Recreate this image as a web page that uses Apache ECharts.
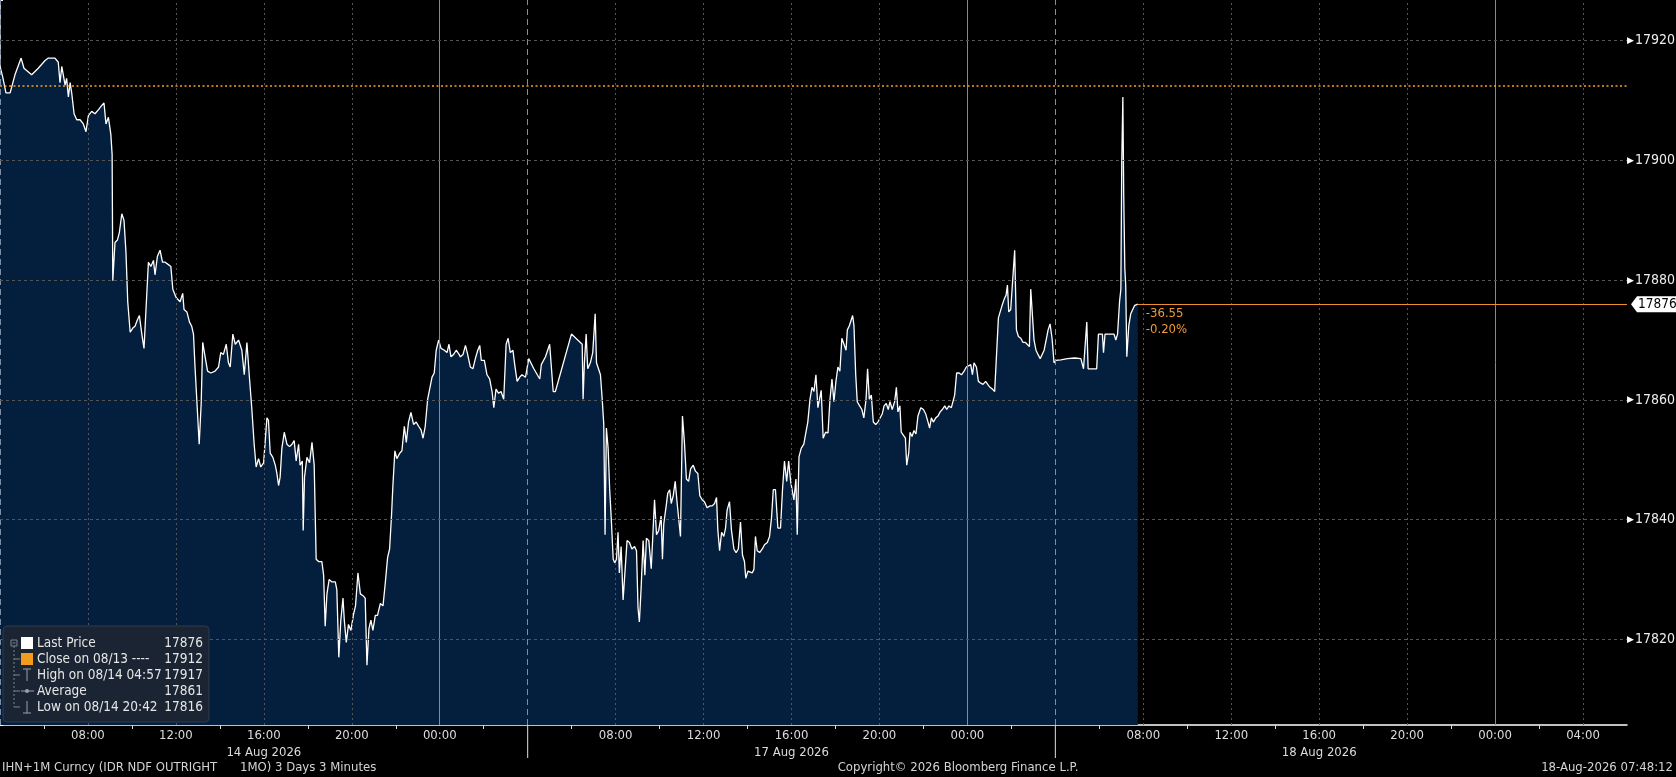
<!DOCTYPE html>
<html><head><meta charset="utf-8">
<script src="https://cdn.jsdelivr.net/npm/echarts@6/dist/echarts.min.js"></script>
<style>html,body{margin:0;padding:0;background:#000;}#c{width:1676px;height:777px;}</style>
</head><body><div id="c"></div>
<script>
// ---- DATA (hours since each session's 04:00 open, price) ----
const sessionOpenClock = 4;           // sessions run 04:00 -> 04:00
const sessionLength = 24;
const sessionDates = ['14 Aug 2026', '17 Aug 2026', '18 Aug 2026'];
const sessionBoundaries = [0, 24, 48];
const axisMaxHours = 74;

const s1Hours = [0.00,0.12,0.27,0.46,0.68,0.96,1.09,1.44,1.74,2.05,2.20,2.50,2.65,2.73,2.81,2.96,3.03,3.11,3.19,3.26,3.37,3.49,3.64,3.79,3.91,4.02,4.17,4.32,4.48,4.63,4.73,4.82,4.93,5.04,5.10,5.13,5.23,5.34,5.43,5.54,5.64,5.73,5.81,5.92,6.04,6.14,6.25,6.34,6.45,6.55,6.64,6.75,6.86,6.98,7.05,7.16,7.28,7.39,7.51,7.66,7.77,7.86,8.01,8.19,8.31,8.37,8.50,8.62,8.72,8.80,8.87,8.95,9.06,9.15,9.22,9.33,9.44,9.59,9.78,9.94,10.04,10.16,10.29,10.39,
10.47,10.59,10.70,10.85,11.00,11.11,11.23,11.35,11.45,11.56,11.65,11.76,11.86,11.99,12.06,12.14,12.21,12.29,12.41,12.52,12.59,12.67,12.74,12.82,12.93,13.05,13.17,13.28,13.38,13.47,13.58,13.65,13.75,13.79,13.85,13.96,14.08,14.19,14.29,14.38,14.49,14.64,14.72,14.79,14.87,14.97,15.10,15.25,15.32,15.41,15.50,15.60,15.66,15.75,15.85,15.96,16.08,16.17,16.28,16.39,16.51,16.61,16.69,16.78,16.87,16.96,17.07,17.17,17.30,17.42,17.52,17.63,17.72,17.81,17.87,17.96,18.05,18.18,18.28,18.39,18.48,18.58,18.69,18.81,18.93,19.04,19.15,19.24,19.34,19.45,19.54,19.65,19.75,19.84,19.95,20.06,20.21,20.33,20.42,20.51,20.63,20.75,20.88,
20.94,21.06,21.17,21.27,21.39,21.51,21.62,21.73,21.82,21.89,22.03,22.15,22.27,22.38,22.46,22.56,22.68,22.79,22.91,23.02,23.11,23.21,23.33,23.41,23.52,23.64,23.74,23.90];
const s1Price = [17915.7,17914,17911.3,17911.3,17914.3,17917.1,17915.4,17914.3,17915.4,17916.7,17917.1,17917.1,17916.4,17913,17915.7,17912.6,17913.7,17910.6,17913,17911.3,17907.8,17906.8,17906.8,17906.1,17904.8,17907.5,17908.2,17907.8,17908.5,17909.2,17909.6,17906.1,17907.2,17904.4,17901,17879.9,17886.3,17886.7,17888,17891.1,17890,17884.6,17876.4,17871.3,17872,17872.3,17873.4,17874.1,17871,17868.6,17875.1,17883,17882.3,17883.3,17880.9,17884,17885,17883,17883,17882.6,17882.3,17878.5,17877.1,17876.4,17877.8,17875.1,17874.7,17873,17872.3,17871,17865.5,17860.1,17852.6,17859.4,17869.6,17867.2,17864.8,17864.5,17864.8,17865.5,17867.9,17867.6,17869.3,17866.2,
17865.5,17871,17869.3,17870,17868.3,17864.2,17869.6,17863.5,17858.7,17852.6,17848.8,17850.2,17848.8,17849.5,17849.8,17857,17856.6,17851.1,17850.4,17849.1,17847.8,17845.7,17847.1,17851.9,17854.6,17852.6,17852.2,17852.6,17853.2,17849.8,17852.6,17849.1,17849.8,17838.2,17847.1,17850.4,17849.5,17852.9,17849.1,17833.4,17833,17833,17830.7,17822.2,17827.6,17830,17829.6,17829.6,17828.3,17817,17823.2,17826.9,17823.2,17819.5,17822.5,17821.5,17824.2,17825.6,17831.1,17827.6,17827.3,17826.9,17815.7,17821.8,17823.2,17821.5,17824,17824,17826,17825.6,17829.3,17833.7,17835.1,17840.9,17845.7,17851.5,17850.2,17851.1,17851.5,17855.6,17852.9,17856.3,17857.9,17855.9,17856.3,17855.6,17855,17853.6,17855.6,17860.1,17860.4,17863.8,17864.5,17868.3,17870,17868.6,17868.3,17867.9,17869.3,17867.2,17867.6,17868.3,17867.6,
17867.2,17867.6,17869.1,17867.6,17865.5,17865.2,17866.9,17868.3,17869.1,17866.6,17866.6,17864.2,17863.5,17861.4,17858.7,17861.8,17861.1,17861.4,17860.1,17869.3,17870.3,17867.9,17868.3,17865.9,17863.1,17863.8,17864.2,17863.8];

const s2Hours = [0.05,0.28,0.55,0.62,0.81,1.00,1.16,1.26,1.99,2.48,2.52,2.58,2.66,2.73,2.85,2.96,3.07,3.13,3.22,3.31,3.39,3.46,3.52,3.58,3.66,3.73,3.80,3.89,3.96,4.04,4.11,4.17,4.25,4.34,4.43,4.52,4.63,4.74,4.86,4.95,5.02,5.08,5.16,5.25,5.33,5.40,5.51,5.62,5.69,5.77,5.86,5.96,6.07,6.13,6.19,6.30,6.37,6.46,6.53,6.62,6.71,6.80,6.89,6.95,7.04,7.13,7.22,7.32,
7.41,7.53,7.63,7.74,7.83,7.94,8.04,8.16,8.29,8.39,8.50,8.59,8.65,8.73,8.82,8.92,9.00,9.07,9.18,9.27,9.38,9.48,9.58,9.68,9.77,9.86,9.92,10.02,10.11,10.21,10.29,10.36,10.44,10.55,10.67,10.77,10.90,11.00,11.09,11.17,11.27,11.38,11.50,11.59,11.68,11.78,11.87,11.96,12.03,12.11,12.20,12.26,12.34,12.44,12.56,12.64,12.74,12.84,12.93,13.02,13.11,13.20,13.28,13.35,13.44,13.55,13.66,13.75,13.84,13.93,14.02,14.11,14.20,14.29,14.38,14.48,14.54,14.63,14.69,14.78,14.84,14.92,14.99,15.10,15.20,15.29,15.39,15.46,15.54,15.63,15.72,15.83,15.93,16.02,16.13,16.21,16.31,16.40,16.48,16.58,16.69,16.77,16.84,16.93,16.99,17.08,17.18,17.24,17.33,17.39,17.48,17.57,17.66,17.75,
17.88,18.00,18.10,18.21,18.28,18.36,18.45,18.56,18.66,18.76,18.86,18.97,19.06,19.16,19.27,19.36,19.42,19.51,19.62,19.73,19.85,19.95,20.04,20.15,20.23,20.30,20.41,20.50,20.61,20.71,20.83,20.94,21.03,21.14,21.24,21.33,21.41,21.49,21.58,21.67,21.76,21.82,21.88,21.97,22.06,22.15,22.23,22.32,22.43,22.53,22.64,22.73,22.82,22.88,22.96,23.03,23.12,23.21,23.31,23.40,23.49,23.58,23.67,23.76,23.85,23.94];
const s2Price = [17866.9,17865.2,17863.5,17865.9,17867.2,17869.3,17861.4,17861.4,17871,17869.3,17860.1,17866.2,17871,17865.2,17866.2,17867.9,17874.4,17866.2,17866.2,17864.2,17860.1,17856,17837.5,17855.3,17851.9,17845,17840.3,17833.4,17832.8,17833.4,17837.9,17831.1,17835.5,17826.6,17826.6,17836.5,17836.2,17835.1,17835.5,17834.8,17825.2,17822.9,17828.6,17836.5,17830.7,17836.9,17836.5,17831.8,17837.2,17843.3,17837.5,17838.2,17840.6,17833.4,17839.3,17842.3,17844.4,17845,17842.7,17844,17846.4,17842.7,17843,17837.2,17857.3,17852.9,17846.8,17846.4,
17848.5,17849.1,17848.1,17847.7,17844,17843.3,17843,17842,17842.3,17842.3,17842.7,17843.7,17838.2,17834.8,17837.9,17837.2,17838.6,17841.6,17843,17838.2,17835.1,17834.5,17835.1,17839.6,17834.1,17833,17830.2,17831.4,17831.1,17831.1,17831.7,17837.2,17834.8,17834.5,17835.1,17835.8,17836.2,17837.2,17840.3,17845,17845,17838.6,17838.6,17845,17849.8,17846.4,17849.8,17846.4,17846.4,17843.3,17846.8,17837.5,17850.5,17851.9,17852.6,17854.3,17856.3,17860.1,17862.1,17861.4,17864.2,17858.7,17858.7,17861.6,17853.6,17854.6,17854.5,17860.1,17863.5,17859.7,17863.1,17865.5,17864.8,17870.3,17870.6,17868.3,17871.7,17872.4,17872.4,17874.1,17872.4,17864.2,17859.7,17859,17858.4,17857,17860.1,17865.2,17860.1,17860.8,17856.3,17855.9,17856.3,17856.3,17857.7,17859,17859.4,17858.4,17859.7,17858.4,17859.7,17862.1,17858,17859,17854.6,17854.3,17853.6,17849.1,17851.1,17854.6,17853.9,17854.9,17854.3,17857.3,
17858.7,17858.4,17857.7,17856.3,17855.3,17857,17856.3,17857,17857.3,17858,17858.4,17859,17858.4,17859,17858.7,17859,17860.8,17864.5,17864.5,17864.2,17864.8,17865.5,17865.5,17865.9,17864.2,17866.2,17865.5,17863.1,17862.8,17862.6,17863.1,17862.5,17862.1,17861.8,17861.4,17861.3,17873.7,17874.7,17875.8,17876.8,17877.5,17879.2,17874.7,17875.1,17875.4,17885,17871.7,17870.6,17870.3,17869.6,17869.6,17869.3,17868.9,17878.5,17878.2,17870,17868.3,17867.6,17866.9,17867.6,17868.3,17870,17871.7,17872.7,17870.3,17866.2];

const s3Hours = [0.02,0.25,0.55,0.88,1.16,1.28,1.37,1.43,1.49,1.61,1.88,1.96,2.14,2.19,2.26,2.45,2.67,2.75,2.83,2.92,2.98,3.02,3.07,3.11,3.16,3.20,3.25,3.34,3.43,3.52,3.61,3.70,3.75];
const s3Price = [17866.6,17866.7,17866.9,17867,17866.9,17865.2,17865.2,17873,17865.2,17865.2,17865.2,17871,17871,17867.9,17871,17871,17871,17870,17871,17876.4,17878.5,17899.6,17910.6,17894.2,17881.9,17879.2,17867.2,17872.4,17874.4,17875.1,17875.8,17875.6,17876];

const prevClose = 17912.55;
const yTickValues = [17820, 17840, 17860, 17880, 17900, 17920];
const changeTexts = ['-36.55', '-0.20%'];
const legendLabels = ['Last Price', 'Close on 08/13 ----', 'High on 08/14 04:57', 'Average', 'Low on 08/14 20:42'];
const legendValues = ['17876', '17912', '17917', '17861', '17816'];
const footerLeft = ['IHN+1M Curncy (IDR NDF OUTRIGHT', '1MO) 3 Days 3 Minutes'];
const footerCenter = 'Copyright\u00A9 2026 Bloomberg Finance L.P.';
const footerRight = '18-Aug-2026 07:48:12';

// ---- build series data ----
const sessions = [[s1Hours, s1Price], [s2Hours, s2Price], [s3Hours, s3Price]];
const seriesData = [];
sessions.forEach(([hs, ps], i) => hs.forEach((h, j) => seriesData.push([i * sessionLength + h, ps[j]])));
const last = seriesData[seriesData.length - 1];

function clockLabel(v) {
  if (v % 4 !== 0 || v > 72 || sessionBoundaries.indexOf(v) >= 0) return '';
  const c = (sessionOpenClock + v) % 24;
  return String(c).padStart(2, '0') + ':00';
}
function dateLabel(v) {
  const i = Math.round((v - 12) / 24);
  return (v - 12) % 24 === 0 && sessionDates[i] ? sessionDates[i] : '';
}

const FONT = "'DejaVu Sans Condensed', 'Liberation Sans', sans-serif";
const gridLineCol = '#555555';
const vLines = [];
for (let h = 0; h <= 72; h += 4) {
  let style;
  if (sessionBoundaries.indexOf(h) >= 0) style = { color: '#7d90a8', type: [6, 4], width: 1 };
  else if ((sessionOpenClock + h) % 24 === 0) style = { color: '#8a8a8a', type: 'solid', width: 1 };
  else style = { color: gridLineCol, type: [2, 3], width: 1 };
  vLines.push({ xAxis: h, lineStyle: style });
}
const hLines = yTickValues.map(v => ({ yAxis: v, lineStyle: { color: gridLineCol, type: [3, 3], width: 1 } }));

const chart = echarts.init(document.getElementById('c'));
chart.setOption({
  backgroundColor: '#000',
  animation: false,
  grid: { left: 0, right: 49, top: 0, bottom: 52, outerBoundsMode: 'none' },
  xAxis: [{
    type: 'value', min: 0, max: axisMaxHours, interval: 4,
    axisLine: { lineStyle: { color: '#ffffff', width: 1.5 } },
    axisTick: { show: false },
    minorTick: { show: true, splitNumber: 2, length: 4, lineStyle: { color: '#dddddd' } },
    splitLine: { show: false },
    axisLabel: { formatter: clockLabel, color: '#dcdcdc', fontFamily: FONT, fontSize: 13, margin: 4, showMaxLabel: false }
  }, {
    type: 'value', min: 0, max: axisMaxHours, interval: 12, position: 'bottom', offset: 17,
    axisLine: { show: false }, axisTick: { show: false }, splitLine: { show: false },
    axisLabel: { formatter: dateLabel, color: '#dcdcdc', fontFamily: FONT, fontSize: 13, margin: 4, showMaxLabel: false }
  }],
  yAxis: {
    type: 'value', position: 'right', min: 17805.7, max: 17926.8, splitNumber: 6, minInterval: 20, maxInterval: 20,
    axisLine: { show: true, lineStyle: { color: '#ffffff', width: 1.5 } },
    axisTick: { show: true, length: 3, lineStyle: { color: '#ffffff' } },
    minorTick: { show: true, splitNumber: 2, length: 5, lineStyle: { color: '#ffffff' } },
    splitLine: { show: false },
    axisLabel: {
      showMinLabel: false, showMaxLabel: false, margin: 0,
      formatter: v => (v % 20 === 0 ? '{t|\u25B6}{v|' + v + '}' : ''),
      rich: { t: { fontSize: 9, color: '#ffffff', padding: [0, 1, 0, 0] }, v: { fontSize: 14, color: '#ececec', fontFamily: FONT } }
    }
  },
  series: [{
    type: 'line', data: seriesData, z: 1, showSymbol: false, silent: true,
    lineStyle: { width: 0, opacity: 0 },
    areaStyle: { color: '#041e3e', opacity: 1 }
  }, {
    type: 'line', data: seriesData, z: 2, showSymbol: false, silent: true,
    lineStyle: { width: 0, opacity: 0 },
    markLine: { silent: true, symbol: 'none', label: { show: false }, animation: false, data: vLines.concat(hLines) }
  }, {
    type: 'line', data: seriesData, z: 3, showSymbol: false, silent: true,
    lineStyle: { color: '#ffffff', width: 1.3 },
    markLine: {
      silent: true, symbol: 'none', label: { show: false }, animation: false,
      data: [
        { yAxis: prevClose, lineStyle: { color: '#f3a21e', type: [2, 2.5], width: 1.6 } },
        [{ coord: [last[0], last[1]], lineStyle: { color: '#ee8f2c', type: 'solid', width: 1 } }, { coord: [axisMaxHours, last[1]] }]
      ]
    }
  }]
});

// ---- overlay texts / legend ----
const [axX] = chart.convertToPixel({ xAxisIndex: 0, yAxisIndex: 0 }, [axisMaxHours, last[1]]);
const [lx, ly] = chart.convertToPixel({ xAxisIndex: 0, yAxisIndex: 0 }, last);
const axisBottom = chart.convertToPixel({ yAxisIndex: 0 }, 17805.7);
const g = [];
sessionBoundaries.slice(1).forEach(h => {
  const x = chart.convertToPixel({ xAxisIndex: 0 }, h);
  g.push({ type: 'line', shape: { x1: x, y1: axisBottom, x2: x, y2: axisBottom + 33 }, style: { stroke: '#e0e0e0', lineWidth: 1 }, z: 10 });
});
const tx = axX + 4;
g.push({ type: 'polygon', shape: { points: [[tx, ly], [tx + 6, ly - 8], [tx + 46, ly - 8], [tx + 46, ly + 8], [tx + 6, ly + 8]] }, style: { fill: '#ffffff' }, z: 20 });
g.push({ type: 'text', x: tx + 7, y: ly, style: { text: String(Math.round(last[1])), fill: '#000', font: '13.5px ' + FONT, verticalAlign: 'middle' }, z: 21 });
changeTexts.forEach((t, i) => g.push({ type: 'text', x: lx + 8, y: ly + 9 + i * 16, style: { text: t, fill: '#ef9a35', font: '13px ' + FONT, verticalAlign: 'middle' }, z: 20 }));
g.push({ type: 'rect', shape: { x: 3, y: 626, width: 206, height: 96, r: 4 }, style: { fill: 'rgba(27,36,50,0.96)', stroke: '#2e3a4c', lineWidth: 1 }, z: 30 });
const rowY = [643, 659, 675, 691, 707];
const treeCol = '#7a8290';
g.push({ type: 'rect', shape: { x: 11, y: 640, width: 6, height: 6 }, style: { fill: 'none', stroke: treeCol, lineWidth: 1 }, z: 31 });
g.push({ type: 'line', shape: { x1: 12.5, y1: 643, x2: 15.5, y2: 643 }, style: { stroke: treeCol }, z: 31 });
g.push({ type: 'line', shape: { x1: 14, y1: 646, x2: 14, y2: rowY[4] }, style: { stroke: treeCol, lineDash: [2, 2] }, z: 31 });
rowY.slice(1).forEach(y => g.push({ type: 'line', shape: { x1: 14, y1: y, x2: 20, y2: y }, style: { stroke: treeCol }, z: 31 }));
g.push({ type: 'rect', shape: { x: 21, y: rowY[0] - 6, width: 12, height: 12 }, style: { fill: '#ffffff' }, z: 31 });
g.push({ type: 'rect', shape: { x: 21, y: rowY[1] - 6, width: 12, height: 12 }, style: { fill: '#f39b1d' }, z: 31 });
g.push({ type: 'line', shape: { x1: 23, y1: rowY[2] - 6, x2: 31, y2: rowY[2] - 6 }, style: { stroke: '#9aa0a8' }, z: 31 });
g.push({ type: 'line', shape: { x1: 27, y1: rowY[2] - 6, x2: 27, y2: rowY[2] + 6 }, style: { stroke: '#9aa0a8' }, z: 31 });
g.push({ type: 'line', shape: { x1: 21, y1: rowY[3], x2: 34, y2: rowY[3] }, style: { stroke: '#9aa0a8' }, z: 31 });
g.push({ type: 'circle', shape: { cx: 27, cy: rowY[3], r: 2 }, style: { fill: '#9aa0a8' }, z: 31 });
g.push({ type: 'line', shape: { x1: 27, y1: rowY[4] - 6, x2: 27, y2: rowY[4] + 6 }, style: { stroke: '#9aa0a8' }, z: 31 });
g.push({ type: 'line', shape: { x1: 23, y1: rowY[4] + 6, x2: 31, y2: rowY[4] + 6 }, style: { stroke: '#9aa0a8' }, z: 31 });
legendLabels.forEach((t, i) => {
  g.push({ type: 'text', x: 37, y: rowY[i], style: { text: t, fill: '#e6e6e6', font: '13.5px ' + FONT, verticalAlign: 'middle' }, z: 32 });
  g.push({ type: 'text', x: 203, y: rowY[i], style: { text: legendValues[i], fill: '#e6e6e6', font: '13.5px ' + FONT, verticalAlign: 'middle', align: 'right' }, z: 32 });
});
g.push({ type: 'text', x: 2, y: 768, style: { text: footerLeft[0], fill: '#d4d4d4', font: '13px ' + FONT, verticalAlign: 'middle' }, z: 40 });
g.push({ type: 'text', x: 240, y: 768, style: { text: footerLeft[1], fill: '#d4d4d4', font: '13px ' + FONT, verticalAlign: 'middle' }, z: 40 });
g.push({ type: 'text', x: 958, y: 768, style: { text: footerCenter, fill: '#d4d4d4', font: '13px ' + FONT, verticalAlign: 'middle', align: 'center' }, z: 40 });
g.push({ type: 'text', x: 1673, y: 768, style: { text: footerRight, fill: '#d4d4d4', font: '13px ' + FONT, verticalAlign: 'middle', align: 'right' }, z: 40 });
chart.setOption({ graphic: g });
</script>
</body></html>
